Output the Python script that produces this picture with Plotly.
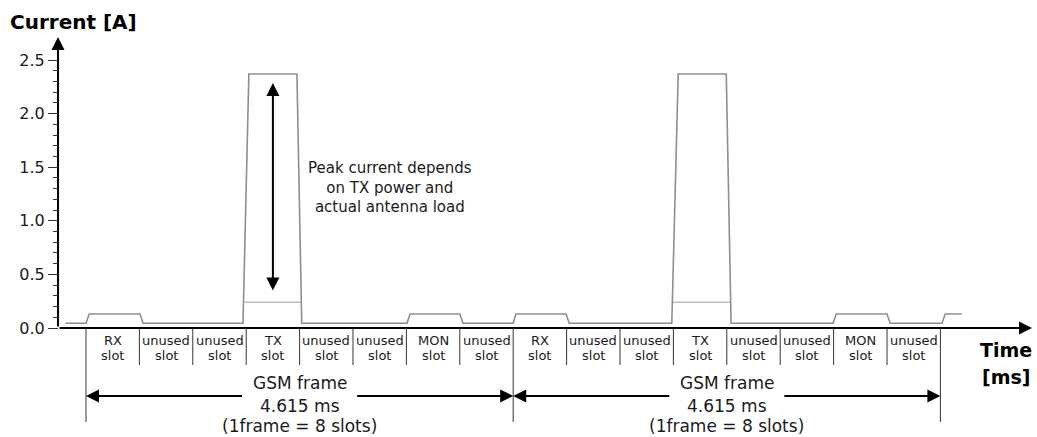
import plotly.graph_objects as go

# ---------------- data ----------------
slot_names = ["RX", "unused", "unused", "TX", "unused", "unused", "MON", "unused"]
slot_sub = "slot"
n_frames = 2
slots_per_frame = 8
frame_text = ["GSM frame", "4.615 ms", "(1frame = 8 slots)"]

# current waveform (x in slot units, y in A)
wave_x = [-0.39, 0.0, 0.06, 1.01, 1.07, 2.94, 3.05, 3.95, 4.04, 6.01, 6.07, 7.0, 7.06,
          8.0, 8.05, 8.99, 9.05, 10.97, 11.09, 11.99, 12.08, 13.99, 14.05, 15.0, 15.06,
          16.03, 16.09, 16.40]
wave_y = [0.045, 0.045, 0.13, 0.13, 0.045, 0.045, 2.37, 2.37, 0.045, 0.045, 0.13, 0.13, 0.045,
          0.045, 0.13, 0.13, 0.045, 0.045, 2.37, 2.37, 0.045, 0.045, 0.13, 0.13, 0.045,
          0.045, 0.13, 0.13]
# low-power TX level
txlow_x = [2.96, 4.03, None, 10.99, 12.06]
txlow_y = [0.24, 0.24, None, 0.24, 0.24]

peak_arrow_x = 3.5
peak_arrow_y = [0.336, 2.285]
peak_text = "Peak current depends<br>on TX power and<br>actual antenna load"

y_ticks = [0.0, 0.5, 1.0, 1.5, 2.0, 2.5]
y_minor = [round(0.1 * i, 1) for i in range(1, 25) if i % 5 != 0]

# ---------------- layout geometry ----------------
W, H = 1037, 437
x_range = [-1.6105, 17.809]
y_range = [-1.0168, 3.0597]
x_axis_left = -0.524     # where the y axis sits
x_arrow_end = 17.715
y_arrow_end = 2.715
slot_tick_y = -0.345
frame_tick_y = -0.877
frame_arrow_y = -0.634
frame_gap_half = 1.05
slot_text_y = [-0.112, -0.261]
frame_text_y = [-0.513, -0.728, -0.914]

FONT = "DejaVu Sans"
TXT = "#1a1a1a"

fig = go.Figure()
fig.add_trace(go.Scatter(x=txlow_x, y=txlow_y, mode="lines",
                         line=dict(color="#c0c0c0", width=1.6), hoverinfo="skip"))
fig.add_trace(go.Scatter(x=wave_x, y=wave_y, mode="lines",
                         line=dict(color="#8e8e8e", width=1.6), hoverinfo="skip"))

shapes = []
annotations = []

n_slots = n_frames * slots_per_frame
for i in range(n_slots + 1):
    is_frame = (i % slots_per_frame == 0)
    shapes.append(dict(type="line", xref="x", yref="y", x0=i, x1=i, y0=0,
                       y1=frame_tick_y if is_frame else slot_tick_y,
                       line=dict(color="#333333", width=1)))

def arrow(x, y, ax, ay, both=False):
    d = dict(x=x, y=y, ax=ax, ay=ay, xref="x", yref="y", axref="x", ayref="y", text="",
             showarrow=True, arrowhead=2, arrowsize=1.3, arrowwidth=2,
             arrowcolor="black", standoff=0)
    if both:
        d.update(arrowside="end+start", startarrowhead=2, startarrowsize=1.3, startstandoff=0)
    return d

for f in range(n_frames):
    for s, name in enumerate(slot_names):
        xc = f * slots_per_frame + s + 0.5
        for txt, yy in zip([name, slot_sub], slot_text_y):
            annotations.append(dict(x=xc, y=yy, xref="x", yref="y", showarrow=False,
                                    text=txt, font=dict(family=FONT, size=13, color=TXT)))
    x0 = f * slots_per_frame
    x1 = x0 + slots_per_frame
    xc = (x0 + x1) / 2
    annotations.append(arrow(x0, frame_arrow_y, xc - frame_gap_half, frame_arrow_y))
    annotations.append(arrow(x1, frame_arrow_y, xc + frame_gap_half, frame_arrow_y))
    for txt, yy in zip(frame_text, frame_text_y):
        annotations.append(dict(x=xc, y=yy, xref="x", yref="y", showarrow=False,
                                text=txt, font=dict(family=FONT, size=17, color=TXT)))

# axes arrows
annotations.append(arrow(x_axis_left, y_arrow_end, x_axis_left, 0))
annotations.append(arrow(x_arrow_end, 0, x_axis_left, 0))
# peak arrow
annotations.append(arrow(peak_arrow_x, peak_arrow_y[1], peak_arrow_x, peak_arrow_y[0], both=True))
annotations.append(dict(x=5.69, y=1.315, xref="x", yref="y", showarrow=False, text=peak_text,
                        font=dict(family=FONT, size=15, color=TXT)))

# titles
annotations.append(dict(x=8 / W, y=1 - 22 / H, xref="paper", yref="paper", xanchor="left",
                        yanchor="middle", showarrow=False, text="<b>Current [A]</b>",
                        font=dict(family=FONT, size=20, color="black")))
for txt, yy in zip(["<b>Time</b>", "<b>[ms]</b>"], [-0.205, -0.457]):
    annotations.append(dict(x=17.23, y=yy, xref="x", yref="y", showarrow=False, text=txt,
                            font=dict(family=FONT, size=19, color="black")))

fig.update_layout(
    width=W, height=H, margin=dict(l=0, r=0, t=0, b=0, autoexpand=False),
    paper_bgcolor="white", plot_bgcolor="white", showlegend=False,
    shapes=shapes, annotations=annotations,
    xaxis=dict(domain=[0, 1], range=x_range, visible=False, fixedrange=True),
    yaxis=dict(domain=[0, 1], range=y_range, anchor="free", position=58 / W,
               showline=False, zeroline=False, showgrid=False, automargin=False,
               tickmode="array", tickvals=y_ticks, ticktext=[f"{v:.1f}" for v in y_ticks],
               ticks="outside", ticklen=10, tickwidth=1, tickcolor="#333333",
               tickfont=dict(family=FONT, size=16, color=TXT),
               minor=dict(tickmode="array", tickvals=y_minor, ticks="outside", ticklen=5,
                          tickwidth=1, tickcolor="#333333", showgrid=False),
               fixedrange=True),
)

fig.write_html("out.html", config={"displayModeBar": False, "staticPlot": True},
               post_script="document.body.style.margin='0px';document.body.style.overflow='hidden';")
